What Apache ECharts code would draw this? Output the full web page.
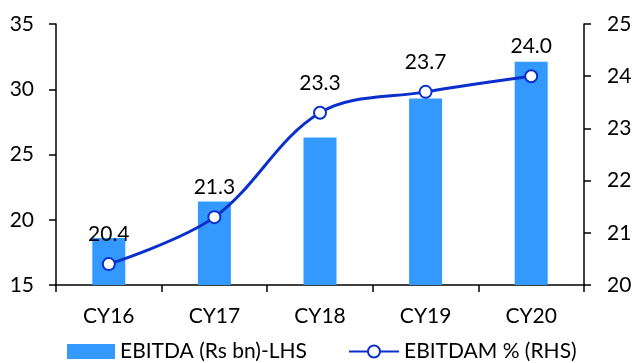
<!DOCTYPE html>
<html>
<head>
<meta charset="utf-8">
<style>
  html, body { margin: 0; padding: 0; background: #fff; }
  #chart { width: 635px; height: 363px; }
</style>
<script src="https://cdn.jsdelivr.net/npm/echarts@6/dist/echarts.min.js"></script>
</head>
<body>
<div id="chart"></div>
<script>
// Years on the category axis
const categories = ['CY16', 'CY17', 'CY18', 'CY19', 'CY20'];
// EBITDA in Rs bn (left axis)
const ebitda = [18.6, 21.4, 26.3, 29.3, 32.1];
// EBITDA margin in % (right axis)
const ebitdaMargin = [20.4, 21.3, 23.3, 23.7, 24.0];

const FONT = 'Lato, "Open Sans", sans-serif';
const FS = 21;
const chart = echarts.init(document.getElementById('chart'), null, { renderer: 'canvas' });

const legendText = { fontFamily: FONT, fontSize: FS, color: '#000' };

chart.setOption({
  animation: false,
  backgroundColor: '#ffffff',
  textStyle: { fontFamily: FONT },
  grid: { left: 56, right: 51, top: 24, bottom: 78 },
  legend: [
    {
      left: 67, top: 341, padding: 0,
      itemWidth: 48, itemHeight: 15,
      textStyle: legendText,
      data: [{ name: 'EBITDA (Rs bn)-LHS', icon: 'rect' }]
    },
    {
      left: 348, top: 341, padding: 0,
      itemWidth: 50, itemHeight: 15,
      textStyle: legendText,
      data: [{ name: 'EBITDAM % (RHS)' }]
    }
  ],
  xAxis: {
    type: 'category',
    data: categories,
    axisLine: { lineStyle: { color: '#000', width: 1.5 } },
    axisTick: { show: true, length: 7, lineStyle: { color: '#000', width: 1.5 } },
    axisLabel: { color: '#000', fontSize: FS, fontFamily: FONT, margin: 21 }
  },
  yAxis: [
    {
      type: 'value', min: 15, max: 35, interval: 5,
      splitLine: { show: false },
      axisLine: { show: true, lineStyle: { color: '#000', width: 1.5 } },
      axisTick: { show: true, length: 7, lineStyle: { color: '#000', width: 1.5 } },
      axisLabel: { color: '#000', fontSize: FS, fontFamily: FONT, margin: 22 }
    },
    {
      type: 'value', min: 20, max: 25, interval: 1,
      splitLine: { show: false },
      axisLine: { show: true, lineStyle: { color: '#000', width: 1.5 } },
      axisTick: { show: true, length: 7, lineStyle: { color: '#000', width: 1.5 } },
      axisLabel: { color: '#000', fontSize: FS, fontFamily: FONT, margin: 23 }
    }
  ],
  series: [
    {
      name: 'EBITDA (Rs bn)-LHS',
      type: 'bar',
      yAxisIndex: 0,
      data: ebitda,
      barWidth: 33,
      itemStyle: { color: '#3399FF' }
    },
    {
      name: 'EBITDAM % (RHS)',
      type: 'line',
      yAxisIndex: 1,
      data: ebitdaMargin,
      smooth: 0.35,
      symbol: 'circle',
      symbolSize: 12,
      lineStyle: { color: '#0A2FCC', width: 3 },
      itemStyle: { color: '#ffffff', borderColor: '#0A2FCC', borderWidth: 2 },
      label: {
        show: true,
        position: 'top',
        distance: 12,
        color: '#000',
        fontSize: FS,
        fontFamily: FONT,
        formatter: p => p.value.toFixed(1)
      },
      z: 3
    }
  ]
});
</script>
</body>
</html>
